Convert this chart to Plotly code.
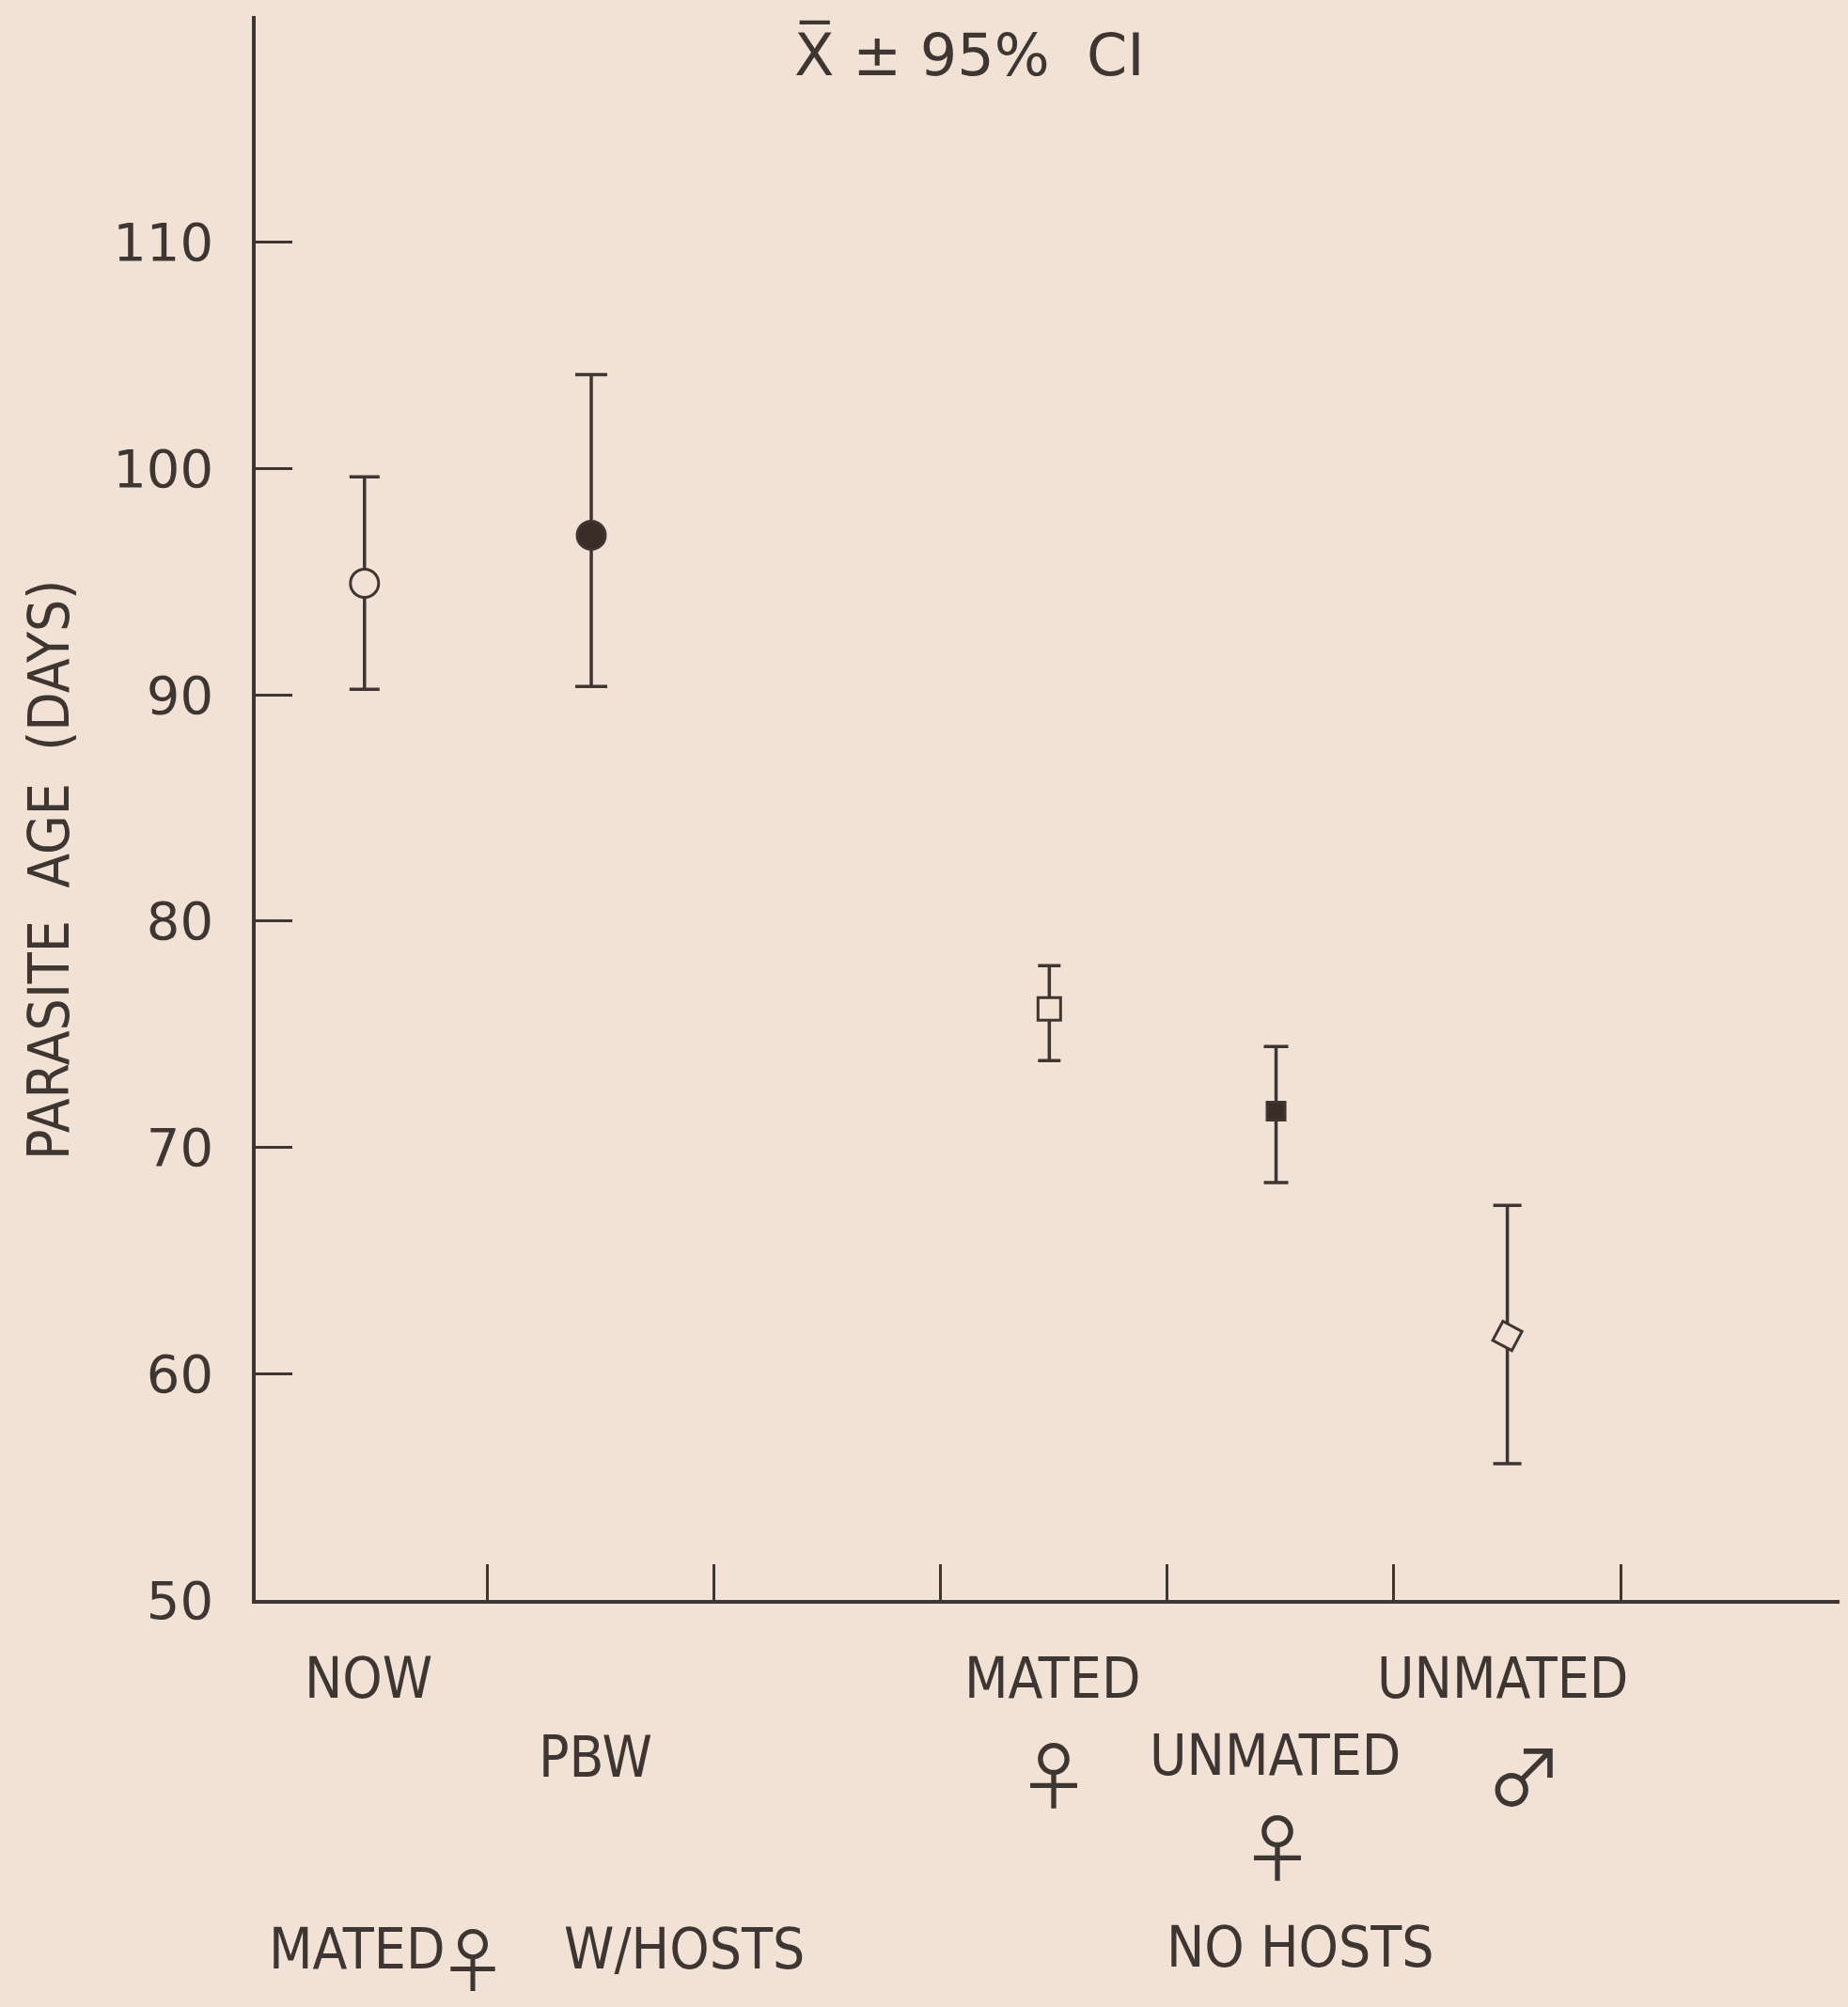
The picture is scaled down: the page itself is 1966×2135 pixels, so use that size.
import plotly.graph_objects as go

# ---- data ----
groups = ["NOW", "PBW", "MATED \u2640", "UNMATED \u2640", "UNMATED \u2642"]
x_pos = [0.46, 1.46, 3.48, 4.48, 5.50]
means = [94.93, 97.05, 76.12, 71.6, 61.67]
upper = [99.63, 104.15, 78.03, 74.46, 67.44]
lower = [90.24, 90.37, 73.84, 68.44, 56.02]
y_ticks = [50, 60, 70, 80, 90, 100, 110]
x_ticks = [1, 2, 3, 4, 5, 6]

BG = "#f2e2d5"
INK = "#3e3633"
DARK = "#3a2c27"
NARROW = "DejaVu Sans Condensed, Liberation Sans Narrow, Arial Narrow, sans-serif"
SYM = "Noto Sans CJK JP, DejaVu Sans, sans-serif"

W, H = 1966, 2135
ML, MR, MT, MB = 272, W - 1957, 17, H - 1702

symbols = ["circle", "circle", "square", "square", "square"]
fills = [BG, DARK, BG, DARK, BG]
sizes = [30, 30, 24, 19, 23]
angles = [0, 0, 0, 0, 28]
caps = [16, 17, 12, 13, 15]

fig = go.Figure()
for i, g in enumerate(groups):
    fig.add_trace(go.Scatter(
        x=[x_pos[i]], y=[means[i]], mode="markers", name=g,
        marker=dict(symbol=symbols[i], size=sizes[i], color=fills[i], angle=angles[i],
                    line=dict(color=INK, width=3)),
        error_y=dict(type="data", symmetric=False,
                     array=[upper[i] - means[i]], arrayminus=[means[i] - lower[i]],
                     color=INK, thickness=3.5, width=caps[i]),
        showlegend=False, cliponaxis=False,
    ))

fig.update_xaxes(range=[-0.02, 6.965], tickvals=x_ticks, showticklabels=False,
                 ticks="inside", ticklen=38, tickwidth=3, tickcolor=INK,
                 showline=True, linewidth=3.5, linecolor=INK, showgrid=False, zeroline=False)
fig.update_yaxes(range=[50, 120], tickvals=y_ticks, ticktext=[str(v) for v in y_ticks],
                 ticks="inside", ticklen=39, tickwidth=3, tickcolor=INK,
                 ticklabelstandoff=30,
                 tickfont=dict(family="DejaVu Sans", size=56, color=INK),
                 showline=True, linewidth=3.5, linecolor=INK, showgrid=False, zeroline=False)

PH = H - MT - MB
PW = W - ML - MR


def px(xp, yp):
    return (xp - ML) / PW, (H - MB - yp) / PH


labels = [
    ("NOW", 392, 1785, 60, NARROW),
    ("PBW", 633, 1869, 60, NARROW),
    ("MATED", 1119, 1785, 60, NARROW),
    ("\u2640", 1121, 1885, 78, SYM),
    ("UNMATED", 1356, 1867, 60, NARROW),
    ("\u2640", 1359, 1962, 78, SYM),
    ("UNMATED", 1598, 1785, 60, NARROW),
    ("\u2642", 1622, 1885, 82, SYM),
    ("MATED", 379, 2073, 60, NARROW),
    ("\u2640", 503, 2080, 74, SYM),
    ("W/HOSTS", 728, 2073, 60, NARROW),
    ("NO HOSTS", 1383, 2071, 60, NARROW),
]
for t, xp, yp, fs, fam in labels:
    ax, ay = px(xp, yp)
    fig.add_annotation(text=t, x=ax, y=ay, xref="paper", yref="paper",
                       showarrow=False, xanchor="center", yanchor="middle",
                       font=dict(family=fam, size=fs, color=INK))

# title
tx, ty = px(1031, 58)
fig.add_annotation(text="X\u0305 \u00b1 95%  CI", x=tx, y=ty, xref="paper", yref="paper",
                   showarrow=False, xanchor="center", yanchor="middle",
                   font=dict(family="DejaVu Sans", size=62, color=INK))

# y axis title
yx, yy = px(52, 926)
fig.add_annotation(text="PARASITE  AGE  (DAYS)", x=yx, y=yy, xref="paper", yref="paper",
                   showarrow=False, textangle=-90, xanchor="center", yanchor="middle",
                   font=dict(family=NARROW, size=60, color=INK))

fig.update_layout(width=W, height=H, margin=dict(l=ML, r=MR, t=MT, b=MB),
                  paper_bgcolor=BG, plot_bgcolor=BG)
fig.write_html("out.html", config={"displayModeBar": False},
               post_script="document.body.style.margin='0';document.body.style.background='%s';" % BG)
